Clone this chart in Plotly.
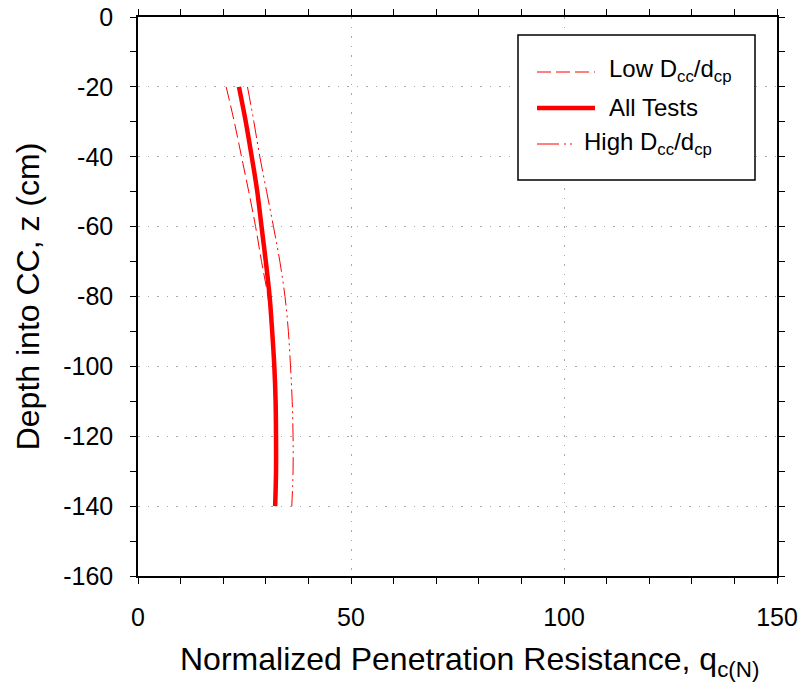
import plotly.graph_objects as go

depth = [-20, -30, -40, -50, -60, -70, -80, -90, -100, -110, -120, -130, -140]
q_low = [20.7, 22.6, 24.3, 26.0, 27.6, 29.0, 30.5, 31.5, 32.0, 32.3, 32.4, 32.4, 32.2]
q_all = [23.7, 25.3, 26.7, 28.0, 29.0, 30.0, 30.9, 31.5, 32.0, 32.3, 32.4, 32.4, 32.2]
q_high = [25.7, 27.2, 28.6, 30.2, 31.8, 33.3, 34.5, 35.3, 35.8, 36.2, 36.4, 36.4, 36.1]

x_ticks = [0, 50, 100, 150]
x_labels = ["0", "50", "100", "150"]
y_ticks = [0, -20, -40, -60, -80, -100, -120, -140, -160]
y_labels = ["0", "-20", "-40", "-60", "-80", "-100", "-120", "-140", "-160"]

names = ["Low D<sub>cc</sub>/d<sub>cp</sub>", "All Tests", "High D<sub>cc</sub>/d<sub>cp</sub>"]
widths = [1, 4.5, 1]
dashes = ["14px,5px", "solid", "18px,4px,2px,4px,2px,4px"]

x_title = "Normalized Penetration Resistance, q<sub>c(N)</sub>"
y_title = "Depth into CC, z (cm)"

FONT = "Liberation Sans, Arial, sans-serif"

fig = go.Figure()
for xs, nm, w, d in zip([q_low, q_all, q_high], names, widths, dashes):
    fig.add_trace(go.Scatter(x=xs, y=depth, mode="lines", name=nm, showlegend=False,
                             line=dict(color="red", width=w, dash=d, shape="spline")))

axis_common = dict(
    showline=True, linecolor="black", linewidth=1.5, mirror="ticks",
    ticks="outside", ticklen=6, tickwidth=1.2, tickcolor="black",
    showgrid=True, gridcolor="#a8a8a8", gridwidth=1.2, griddash="1.5px,8px",
    zeroline=False, tickfont=dict(family=FONT, size=25, color="black"),
    automargin=False, ticklabelstandoff=12,
)

fig.update_xaxes(range=[0, 150], tickmode="array", tickvals=x_ticks, ticktext=x_labels,
                 minor=dict(dtick=10, tick0=0, ticks="outside", ticklen=6, tickcolor="black", showgrid=False),
                 **axis_common)
fig.update_yaxes(range=[-160, 0], tickmode="array", tickvals=y_ticks, ticktext=y_labels,
                 minor=dict(dtick=10, tick0=0, ticks="outside", ticklen=6, tickcolor="black", showgrid=False),
                 title=dict(text=y_title,
                            font=dict(family=FONT, size=32, color="black"), standoff=14),
                 **axis_common)

# Legend box drawn in paper coordinates
L, R, B, T = 138, 777, 576, 17
def px(xp):
    return (xp - L) / (R - L)
def py(yp):
    return (B - yp) / (B - T)

shapes = [dict(type="rect", xref="paper", yref="paper",
               x0=px(518), x1=px(755), y0=py(180), y1=py(35),
               line=dict(color="black", width=1.5), fillcolor="white", layer="above")]
sample_rows = [(537, 595, 72), (537, 595, 108), (537, 572, 144)]
dashes_leg = ["14px,5px", "solid", "22px,5px,2px,4px,2px,30px"]
for (x0, x1, yy), w, d in zip(sample_rows, widths, dashes_leg):
    shapes.append(dict(type="line", xref="paper", yref="paper",
                       x0=px(x0), x1=px(x1), y0=py(yy), y1=py(yy),
                       line=dict(color="red", width=w, dash=d), layer="above"))

text_rows = [(607, 71), (607, 108), (582, 143)]
annotations = []
for (tx, ty), nm in zip(text_rows, names):
    annotations.append(dict(xref="paper", yref="paper", x=px(tx), y=py(ty),
                            xanchor="left", yanchor="middle", showarrow=False,
                            text=nm, font=dict(family=FONT, size=24, color="black")))

# x-axis title as annotation (centred like the reference)
annotations.append(dict(xref="paper", yref="paper", x=px(470), y=py(662),
                        xanchor="center", yanchor="middle", showarrow=False,
                        text=x_title, font=dict(family=FONT, size=32, color="black")))

fig.update_layout(
    width=801, height=694,
    margin=dict(l=L, r=801 - R, t=T, b=694 - B),
    plot_bgcolor="white", paper_bgcolor="white",
    font=dict(family=FONT, color="black"),
    showlegend=False,
    shapes=shapes, annotations=annotations,
)

fig.write_html("out.html", config={"displayModeBar": False},
               post_script="document.body.style.margin='0';document.body.style.overflow='hidden';")
